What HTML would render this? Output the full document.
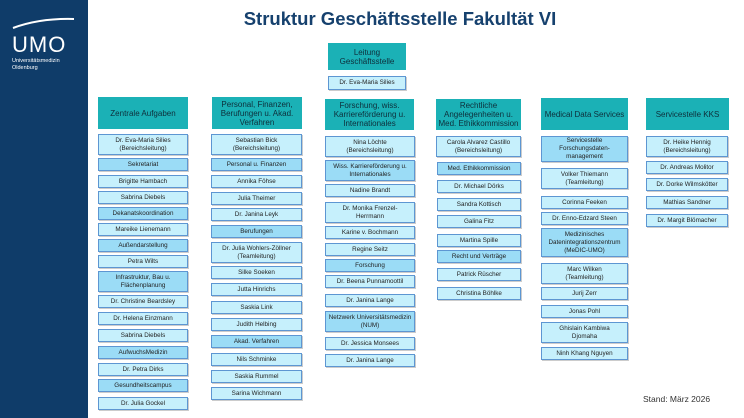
<!DOCTYPE html>
<html><head><meta charset="utf-8"><style>
*{margin:0;padding:0;box-sizing:border-box}
body{width:744px;height:418px;position:relative;background:#fff;font-family:"Liberation Sans",Arial,sans-serif;overflow:hidden}
.side{position:absolute;left:0;top:0;width:88px;height:418px;background:#0f3c69}
.t{position:absolute;left:200px;top:8px;width:400px;text-align:center;font-weight:bold;font-size:18.5px;color:#16416e;white-space:nowrap}
.h,.b,.d{position:absolute;display:flex;align-items:center;justify-content:center;text-align:center;color:#222}
.h{background:#1bb1b6;font-size:8px;line-height:9px;color:#0e2e3a}
.b,.d{background:#c6f0fc;border:1.5px solid #5d96d2;font-size:6.3px;line-height:8px;box-shadow:1px 1px 0 #ccc}
.d{background:#9bdcf6}
</style></head><body>
<div class="side">
<svg width="88" height="80" style="position:absolute;left:0;top:0">
<path d="M13 28 Q40 18 74 19" stroke="#fff" stroke-width="2" fill="none"/>
<text x="12" y="52" fill="#fff" font-family="Liberation Sans,sans-serif" font-size="22" letter-spacing="1">UMO</text>
<text x="12" y="62" fill="#fff" font-family="Liberation Sans,sans-serif" font-size="5.5">Universitätsmedizin</text>
<text x="12" y="69" fill="#fff" font-family="Liberation Sans,sans-serif" font-size="5.5">Oldenburg</text>
</svg></div>
<div class="t">Struktur Geschäftsstelle Fakultät VI</div>

<div class="h" style="left:328px;top:43px;width:78px;height:27px">Leitung<br>Geschäftsstelle</div>
<div class="b" style="left:328px;top:76px;width:78px;height:14px">Dr. Eva-Maria Silies</div>

<div class="h" style="left:98px;top:97px;width:90px;height:32px">Zentrale Aufgaben</div>
<div class="h" style="left:212px;top:97px;width:90px;height:32px">Personal, Finanzen,<br>Berufungen u. Akad.<br>Verfahren</div>
<div class="h" style="left:325px;top:99px;width:89px;height:31px">Forschung, wiss.<br>Karriereförderung u.<br>Internationales</div>
<div class="h" style="left:436px;top:99px;width:85px;height:31px">Rechtliche<br>Angelegenheiten u.<br>Med. Ethikkommission</div>
<div class="h" style="left:541px;top:98px;width:87px;height:32px">Medical Data Services</div>
<div class="h" style="left:646px;top:98px;width:83px;height:32px">Servicestelle KKS</div>

<!-- col1 -->
<div class="b" style="left:98px;top:134px;width:90px;height:21px">Dr. Eva-Maria Silies<br>(Bereichsleitung)</div>
<div class="d" style="left:98px;top:158px;width:90px;height:13px">Sekretariat</div>
<div class="b" style="left:98px;top:175px;width:90px;height:13px">Brigitte Hambach</div>
<div class="b" style="left:98px;top:191px;width:90px;height:13px">Sabrina Diebels</div>
<div class="d" style="left:98px;top:207px;width:90px;height:13px">Dekanatskoordination</div>
<div class="b" style="left:98px;top:223px;width:90px;height:13px">Mareike Lienemann</div>
<div class="d" style="left:98px;top:239px;width:90px;height:13px">Außendarstellung</div>
<div class="b" style="left:98px;top:255px;width:90px;height:13px">Petra Wilts</div>
<div class="d" style="left:98px;top:271px;width:90px;height:21px">Infrastruktur, Bau u.<br>Flächenplanung</div>
<div class="b" style="left:98px;top:295px;width:90px;height:13px">Dr. Christine Beardsley</div>
<div class="b" style="left:98px;top:312px;width:90px;height:13px">Dr. Helena Einzmann</div>
<div class="b" style="left:98px;top:329px;width:90px;height:13px">Sabrina Diebels</div>
<div class="d" style="left:98px;top:346px;width:90px;height:13px">AufwuchsMedizin</div>
<div class="b" style="left:98px;top:363px;width:90px;height:13px">Dr. Petra Dirks</div>
<div class="d" style="left:98px;top:379px;width:90px;height:13px">Gesundheitscampus</div>
<div class="b" style="left:98px;top:397px;width:90px;height:13px">Dr. Julia Gockel</div>

<!-- col2 -->
<div class="b" style="left:211px;top:134px;width:91px;height:21px">Sebastian Bick<br>(Bereichsleitung)</div>
<div class="d" style="left:211px;top:158px;width:91px;height:13px">Personal u. Finanzen</div>
<div class="b" style="left:211px;top:175px;width:91px;height:13px">Annika Föhse</div>
<div class="b" style="left:211px;top:192px;width:91px;height:13px">Julia Theimer</div>
<div class="b" style="left:211px;top:208px;width:91px;height:13px">Dr. Janina Leyk</div>
<div class="d" style="left:211px;top:225px;width:91px;height:13px">Berufungen</div>
<div class="b" style="left:211px;top:242px;width:91px;height:21px">Dr. Julia Wohlers-Zöllner<br>(Teamleitung)</div>
<div class="b" style="left:211px;top:266px;width:91px;height:13px">Silke Soeken</div>
<div class="b" style="left:211px;top:283px;width:91px;height:13px">Jutta Hinrichs</div>
<div class="b" style="left:211px;top:301px;width:91px;height:13px">Saskia Link</div>
<div class="b" style="left:211px;top:318px;width:91px;height:13px">Judith Helbing</div>
<div class="d" style="left:211px;top:335px;width:91px;height:13px">Akad. Verfahren</div>
<div class="b" style="left:211px;top:353px;width:91px;height:13px">Nils Schminke</div>
<div class="b" style="left:211px;top:370px;width:91px;height:13px">Saskia Rummel</div>
<div class="b" style="left:211px;top:387px;width:91px;height:13px">Sarina Wichmann</div>

<!-- col3 -->
<div class="b" style="left:325px;top:136px;width:90px;height:21px">Nina Löchte<br>(Bereichsleitung)</div>
<div class="d" style="left:325px;top:160px;width:90px;height:21px">Wiss. Karriereförderung u.<br>Internationales</div>
<div class="b" style="left:325px;top:184px;width:90px;height:13px">Nadine Brandt</div>
<div class="b" style="left:325px;top:202px;width:90px;height:21px">Dr. Monika Frenzel-<br>Herrmann</div>
<div class="b" style="left:325px;top:226px;width:90px;height:13px">Karine v. Bochmann</div>
<div class="b" style="left:325px;top:243px;width:90px;height:13px">Regine Seitz</div>
<div class="d" style="left:325px;top:259px;width:90px;height:13px">Forschung</div>
<div class="b" style="left:325px;top:275px;width:90px;height:13px">Dr. Beena Punnamoottil</div>
<div class="b" style="left:325px;top:294px;width:90px;height:13px">Dr. Janina Lange</div>
<div class="d" style="left:325px;top:311px;width:90px;height:21px">Netzwerk Universitätsmedizin<br>(NUM)</div>
<div class="b" style="left:325px;top:337px;width:90px;height:13px">Dr. Jessica Monsees</div>
<div class="b" style="left:325px;top:354px;width:90px;height:13px">Dr. Janina Lange</div>

<!-- col4 -->
<div class="b" style="left:436px;top:136px;width:85px;height:21px">Carola Alvarez Castillo<br>(Bereichsleitung)</div>
<div class="d" style="left:437px;top:162px;width:84px;height:13px">Med. Ethikkommission</div>
<div class="b" style="left:437px;top:180px;width:84px;height:13px">Dr. Michael Dörks</div>
<div class="b" style="left:437px;top:198px;width:84px;height:13px">Sandra Kottisch</div>
<div class="b" style="left:437px;top:215px;width:84px;height:13px">Galina Fitz</div>
<div class="b" style="left:437px;top:234px;width:84px;height:13px">Martina Spille</div>
<div class="d" style="left:437px;top:250px;width:84px;height:13px">Recht und Verträge</div>
<div class="b" style="left:437px;top:268px;width:84px;height:13px">Patrick Rüscher</div>
<div class="b" style="left:437px;top:287px;width:84px;height:13px">Christina Böhlke</div>

<!-- col5 -->
<div class="d" style="left:541px;top:136px;width:87px;height:26px">Servicestelle<br>Forschungsdaten-<br>management</div>
<div class="b" style="left:541px;top:168px;width:87px;height:21px">Volker Thiemann<br>(Teamleitung)</div>
<div class="b" style="left:541px;top:196px;width:87px;height:13px">Corinna Feeken</div>
<div class="b" style="left:541px;top:212px;width:87px;height:13px">Dr. Enno-Edzard Steen</div>
<div class="d" style="left:541px;top:228px;width:87px;height:29px">Medizinisches<br>Datenintegrationszentrum<br>(MeDIC-UMO)</div>
<div class="b" style="left:541px;top:263px;width:87px;height:21px">Marc Wilken<br>(Teamleitung)</div>
<div class="b" style="left:541px;top:287px;width:87px;height:13px">Jurij Zerr</div>
<div class="b" style="left:541px;top:305px;width:87px;height:13px">Jonas Pohl</div>
<div class="b" style="left:541px;top:322px;width:87px;height:21px">Ghislain Kambiwa<br>Djomaha</div>
<div class="b" style="left:541px;top:347px;width:87px;height:13px">Ninh Khang Nguyen</div>

<!-- col6 -->
<div class="b" style="left:646px;top:136px;width:82px;height:21px">Dr. Heike Hennig<br>(Bereichsleitung)</div>
<div class="b" style="left:646px;top:161px;width:82px;height:13px">Dr. Andreas Molitor</div>
<div class="b" style="left:646px;top:178px;width:82px;height:13px">Dr. Dorke Wilmskötter</div>
<div class="b" style="left:646px;top:196px;width:82px;height:13px">Mathias Sandner</div>
<div class="b" style="left:646px;top:214px;width:82px;height:13px">Dr. Margit Blömacher</div>

<div style="position:absolute;left:643px;top:394px;font-size:8.5px;color:#333">Stand: März 2026</div>
</body></html>
